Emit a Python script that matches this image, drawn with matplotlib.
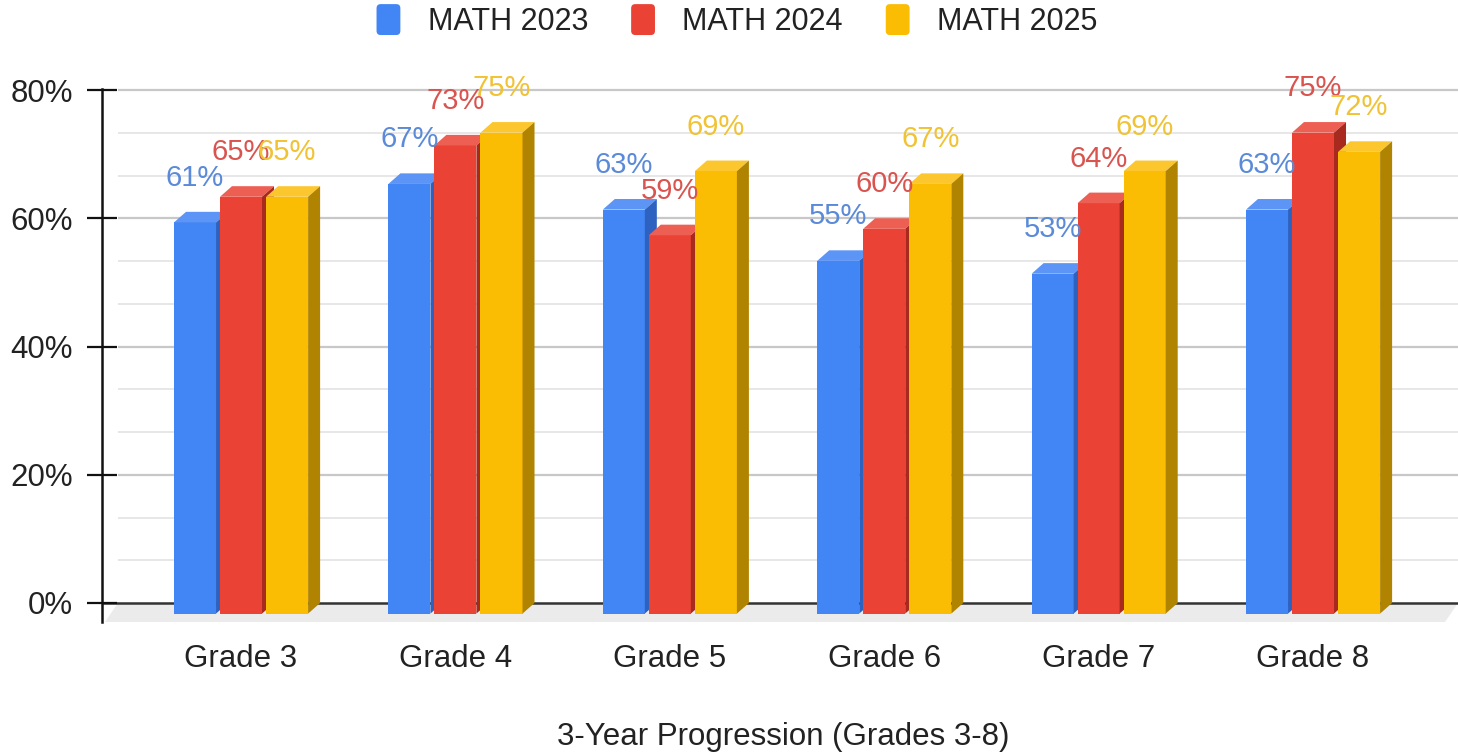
import matplotlib.pyplot as plt
from matplotlib.patches import Polygon, FancyBboxPatch
from matplotlib.legend_handler import HandlerPatch

plt.rcParams['font.family'] = ['Liberation Sans', 'DejaVu Sans']

grades = ["Grade 3", "Grade 4", "Grade 5", "Grade 6", "Grade 7", "Grade 8"]
series = ["MATH 2023", "MATH 2024", "MATH 2025"]
math2023 = [61, 67, 63, 55, 53, 63]
math2024 = [65, 73, 59, 60, 64, 75]
math2025 = [65, 75, 69, 67, 69, 72]
yticks = [0, 20, 40, 60, 80]

front_cols = ["#4285F4", "#EA4335", "#FBBC04"]
top_cols = ["#5c95f5", "#ee5f53", "#fcc72e"]
side_cols = ["#2d62c0", "#a8291d", "#b08300"]
label_cols = ["#5a8ad8", "#d9534f", "#f0c234"]

W, H = 1458, 753
fig = plt.figure(figsize=(W / 100, H / 100), dpi=100)
ax = fig.add_axes([102 / W, (H - 622) / H, (W - 102) / W, (622 - 60) / H])

ppu_x = 214.4
ppu_y = 6.4125
x0 = -(241 - 102) / ppu_x
x1 = (W - 241) / ppu_x
y0 = -(622 - 603) / ppu_y
y1 = (603 - 60) / ppu_y
ax.set_xlim(x0, x1)
ax.set_ylim(y0, y1)

# floor
gl = (118 - 241) / ppu_x
floor = Polygon([(gl, 0), (x1, 0), ((1445 - 241) / ppu_x, y0), ((105 - 241) / ppu_x, y0)],
                closed=True, fc="#ebebeb", ec="none", zorder=0, clip_on=False)
ax.add_patch(floor)

# gridlines
for k in range(1, 13):
    yv = k * 20 / 3
    major = (k % 3 == 0)
    ax.hlines(yv, gl, x1, colors="#c8c8c8" if major else "#e3e3e3",
              linewidth=1.6 if major else 1.2, zorder=0.5)
ax.hlines(0, x0, x1, colors="#333333", linewidth=1.8, zorder=0.6)

# 3D bars
w = 0.196
dx = 12 / ppu_x
dy = 1.65
offsets = [-0.3125, -0.098, 0.117]
data = [math2023, math2024, math2025]
for s in range(3):
    xs = [i + offsets[s] for i in range(len(grades))]
    ax.bar(xs, data[s], width=w, bottom=-dy, align="edge", color=front_cols[s],
           linewidth=0, zorder=2 + s)
    for x, v in zip(xs, data[s]):
        top = Polygon([(x, v - dy), (x + w, v - dy), (x + w + dx, v), (x + dx, v)],
                      closed=True, fc=top_cols[s], ec="none", zorder=2 + s)
        side = Polygon([(x + w, -dy), (x + w + dx, 0), (x + w + dx, v), (x + w, v - dy)],
                       closed=True, fc=side_cols[s], ec="none", zorder=2 + s)
        ax.add_patch(top)
        ax.add_patch(side)
        ax.text(x + w / 2, v + 5.3, f"{v}%", color=label_cols[s], fontsize=21,
                ha="center", va="center", zorder=10, clip_on=False)

# axes styling
for sp in ["top", "right", "bottom"]:
    ax.spines[sp].set_visible(False)
ax.spines["left"].set_bounds(y0, 80.2)
ax.spines["left"].set_linewidth(1.8)
ax.spines["left"].set_color("#111111")
ax.set_yticks(yticks)
ax.set_yticklabels([f"{t}%" for t in yticks], fontsize=22.5, color="#222222")
ax.tick_params(axis="y", direction="inout", length=22, width=1.6, color="#111111", pad=10)
ax.set_xticks(range(len(grades)))
ax.set_xticklabels(grades, fontsize=22.5, color="#222222")
ax.tick_params(axis="x", length=0, pad=16)

fig.text(783 / W, 1 - 737 / H, "3-Year Progression (Grades 3-8)", fontsize=22.5,
         color="#222222", ha="center", va="center")


def rounded_square(legend, orig_handle, xdescent, ydescent, width, height, fontsize):
    return FancyBboxPatch((-xdescent, -ydescent - 2), width, height + 4,
                          boxstyle="round,pad=0,rounding_size=3",
                          fc=orig_handle.get_facecolor(), ec="none")


handles = [FancyBboxPatch((0, 0), 1, 1, fc=c, ec="none") for c in front_cols]
fig.legend(handles, series, loc="center", bbox_to_anchor=(737 / W, 1 - 22 / H), ncol=3,
           frameon=False, fontsize=22, handlelength=0.78, handleheight=0.9,
           handletextpad=0.9, columnspacing=1.4, labelcolor="#222222",
           handler_map={FancyBboxPatch: HandlerPatch(patch_func=rounded_square)})

fig.savefig("out.png", dpi=100, facecolor="white")
